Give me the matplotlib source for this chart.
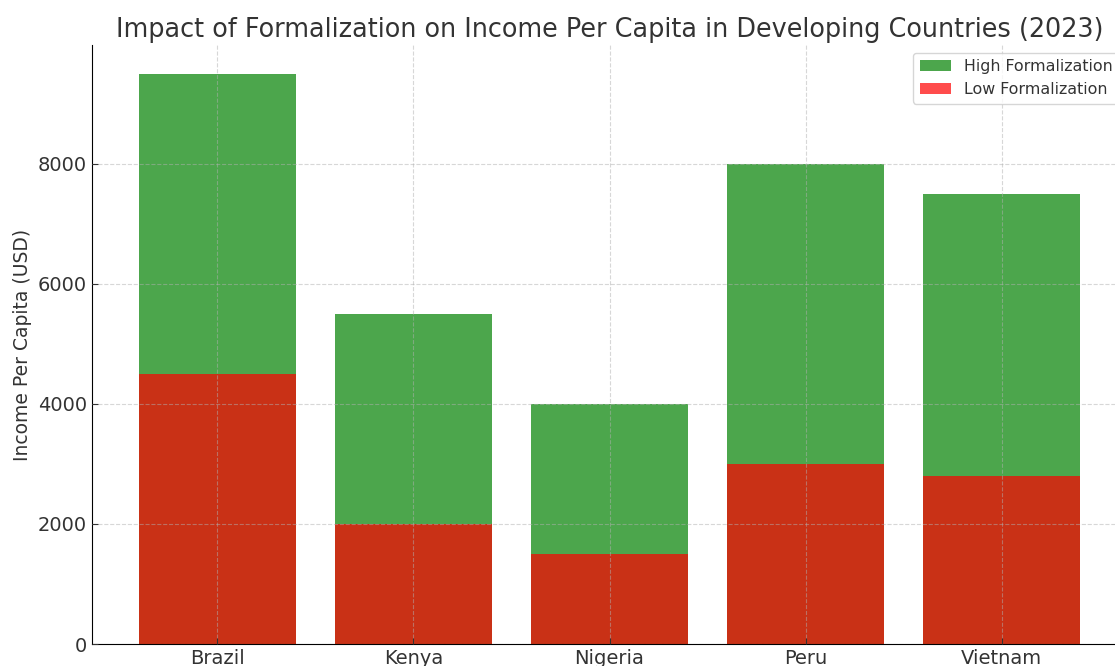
import matplotlib.pyplot as plt

countries = ['Brazil', 'Kenya', 'Nigeria', 'Peru', 'Vietnam']
high_formal = [9500, 5500, 4000, 8000, 7500]
low_formal = [4500, 2000, 1500, 3000, 2800]

plt.rcParams['text.color'] = '#333333'
plt.rcParams['axes.labelcolor'] = '#333333'
plt.rcParams['xtick.color'] = '#333333'
plt.rcParams['ytick.color'] = '#333333'

fig = plt.figure(figsize=(11.15, 6.66), dpi=100)
# axes runs slightly past the right edge, like the cropped original
ax = fig.add_axes([92 / 1115, 22 / 666, 1035 / 1115, 599 / 666])

ax.bar(countries, high_formal, color='green', alpha=0.7, label='High Formalization')
ax.bar(countries, low_formal, color='red', alpha=0.7, label='Low Formalization')

ax.set_title('Impact of Formalization on Income Per Capita in Developing Countries (2023)',
             fontsize=18.4, pad=6)
ax.set_ylabel('Income Per Capita (USD)', fontsize=13.5)
ax.tick_params(axis='both', direction='in', length=4, labelsize=14)
ax.set_yticks([0, 2000, 4000, 6000, 8000])
ax.grid(True, linestyle='--', alpha=0.5)
ax.set_axisbelow(False)
for s in ['top', 'right']:
    ax.spines[s].set_visible(False)
ax.legend(loc='upper right', fontsize=11.4)

fig.savefig('out.png', dpi=100)
